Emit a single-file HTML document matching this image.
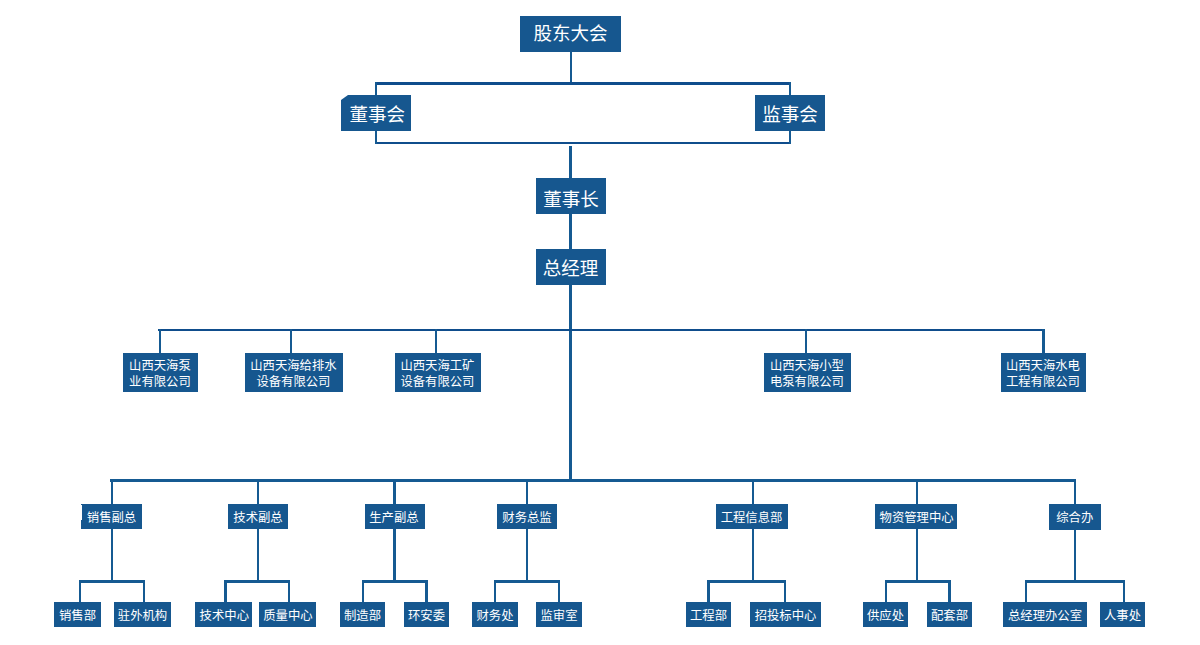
<!DOCTYPE html>
<html lang="zh-CN">
<head>
<meta charset="utf-8">
<title>组织机构</title>
<style>
html,body{margin:0;padding:0;background:#fff;}
body{width:1200px;height:645px;position:relative;overflow:hidden;font-family:"Liberation Sans","Noto Sans CJK SC",sans-serif;}
.l{position:absolute;}
.b{position:absolute;background:#16578f;color:#fff;display:flex;align-items:center;justify-content:center;text-align:center;white-space:nowrap;font-size:12.35px;line-height:16px;}
.b span{position:relative;display:block;}
.b.big{font-size:18.5px;line-height:24px;}
.b.cut{clip-path:polygon(7px 0,100% 0,100% 100%,0 100%,0 5px);}
</style>
</head>
<body>
<div class="l" style="left:570px;top:52px;width:2px;height:31px;background:#155a92"></div>
<div class="l" style="left:375px;top:82px;width:416px;height:2.5px;background:#0f4d8c"></div>
<div class="l" style="left:375px;top:141.5px;width:416px;height:2.5px;background:#0f4d8c"></div>
<div class="l" style="left:375px;top:82px;width:2.2px;height:62px;background:#155a92"></div>
<div class="l" style="left:789px;top:82px;width:2px;height:62px;background:#155a92"></div>
<div class="l" style="left:569px;top:146px;width:3px;height:334px;background:#155a92"></div>
<div class="l" style="left:158px;top:329px;width:887px;height:2px;background:#0f4d8c"></div>
<div class="l" style="left:159px;top:329px;width:2px;height:25px;background:#155a92"></div>
<div class="l" style="left:290px;top:329px;width:2px;height:25px;background:#155a92"></div>
<div class="l" style="left:435px;top:329px;width:2px;height:25px;background:#155a92"></div>
<div class="l" style="left:805px;top:329px;width:2px;height:25px;background:#155a92"></div>
<div class="l" style="left:1042px;top:329px;width:3px;height:25px;background:#155a92"></div>
<div class="l" style="left:110px;top:479px;width:966px;height:3px;background:#155a92"></div>
<div class="l" style="left:111px;top:479px;width:2px;height:102px;background:#155a92"></div>
<div class="l" style="left:257px;top:479px;width:2px;height:102px;background:#155a92"></div>
<div class="l" style="left:393px;top:479px;width:3px;height:102px;background:#155a92"></div>
<div class="l" style="left:526px;top:479px;width:2px;height:102px;background:#155a92"></div>
<div class="l" style="left:752px;top:479px;width:2px;height:102px;background:#155a92"></div>
<div class="l" style="left:916px;top:479px;width:2px;height:102px;background:#155a92"></div>
<div class="l" style="left:1074px;top:479px;width:2px;height:102px;background:#155a92"></div>
<div class="l" style="left:79px;top:580px;width:65.75px;height:2.5px;background:#155a92"></div>
<div class="l" style="left:79px;top:580px;width:2px;height:23px;background:#155a92"></div>
<div class="l" style="left:142.5px;top:580px;width:2.25px;height:23px;background:#155a92"></div>
<div class="l" style="left:224px;top:580px;width:66px;height:2.5px;background:#155a92"></div>
<div class="l" style="left:224px;top:580px;width:2.8px;height:23px;background:#155a92"></div>
<div class="l" style="left:287.75px;top:580px;width:2.25px;height:23px;background:#155a92"></div>
<div class="l" style="left:362px;top:580px;width:65.75px;height:2.5px;background:#155a92"></div>
<div class="l" style="left:362px;top:580px;width:2px;height:23px;background:#155a92"></div>
<div class="l" style="left:425px;top:580px;width:2.75px;height:23px;background:#155a92"></div>
<div class="l" style="left:494px;top:580px;width:66px;height:2.5px;background:#155a92"></div>
<div class="l" style="left:494px;top:580px;width:2px;height:23px;background:#155a92"></div>
<div class="l" style="left:557.75px;top:580px;width:2.25px;height:23px;background:#155a92"></div>
<div class="l" style="left:707px;top:580px;width:79px;height:2.5px;background:#155a92"></div>
<div class="l" style="left:707px;top:580px;width:2.8px;height:23px;background:#155a92"></div>
<div class="l" style="left:783.5px;top:580px;width:2.5px;height:23px;background:#155a92"></div>
<div class="l" style="left:885px;top:580px;width:66px;height:2.5px;background:#155a92"></div>
<div class="l" style="left:885px;top:580px;width:2.1px;height:23px;background:#155a92"></div>
<div class="l" style="left:948.25px;top:580px;width:2.75px;height:23px;background:#155a92"></div>
<div class="l" style="left:1025px;top:580px;width:99.75px;height:2.5px;background:#155a92"></div>
<div class="l" style="left:1025px;top:580px;width:2.1px;height:23px;background:#155a92"></div>
<div class="l" style="left:1122.5px;top:580px;width:2.25px;height:23px;background:#155a92"></div>
<div class="b big" style="left:520px;top:16px;width:101px;height:36px"><span style="top:0.4px">股东大会</span></div>
<div class="b big cut" style="left:341px;top:95px;width:70px;height:36px"><span style="top:2px;left:1.2px">董事会</span></div>
<div class="b big" style="left:755px;top:95px;width:70px;height:36px"><span style="top:2px">监事会</span></div>
<div class="b big" style="left:536px;top:178px;width:70px;height:36px"><span style="top:4px">董事长</span></div>
<div class="b big" style="left:536px;top:249px;width:70px;height:36px"><span style="top:2px;left:-0.5px">总经理</span></div>
<div class="b two" style="left:123px;top:353px;width:75px;height:39px"><span style="top:1px;left:-0.6px">山西天海泵<br>业有限公司</span></div>
<div class="b two" style="left:245px;top:353px;width:98px;height:39px"><span style="top:1px;left:-0.6px">山西天海给排水<br>设备有限公司</span></div>
<div class="b two" style="left:395px;top:353px;width:86px;height:39px"><span style="top:1px;left:-0.6px">山西天海工矿<br>设备有限公司</span></div>
<div class="b two" style="left:764px;top:353px;width:87px;height:39px"><span style="top:1px;left:-0.6px">山西天海小型<br>电泵有限公司</span></div>
<div class="b two" style="left:1001px;top:353px;width:85px;height:39px"><span style="top:1px;left:-0.6px">山西天海水电<br>工程有限公司</span></div>
<div class="b" style="left:81px;top:504px;width:61px;height:24.5px"><span style="top:1.5px">销售副总</span></div>
<div class="b" style="left:228px;top:504px;width:60px;height:24.5px"><span style="top:1.5px">技术副总</span></div>
<div class="b" style="left:364.6px;top:504px;width:60.4px;height:24.5px"><span style="top:1.5px;left:-0.9px">生产副总</span></div>
<div class="b" style="left:497px;top:504px;width:60px;height:24.5px"><span style="top:1.5px">财务总监</span></div>
<div class="b" style="left:715.6px;top:504px;width:72.4px;height:24.5px"><span style="top:1.5px;left:-0.3px">工程信息部</span></div>
<div class="b" style="left:875px;top:504px;width:82px;height:24.5px"><span style="top:1.5px;left:0.6px">物资管理中心</span></div>
<div class="b" style="left:1049px;top:504px;width:51.5px;height:25.75px"><span style="top:1.5px">综合办</span></div>
<div class="b" style="left:54px;top:602px;width:47px;height:25px"><span style="top:1.3px">销售部</span></div>
<div class="b" style="left:114px;top:602px;width:57px;height:25px"><span style="top:1.3px">驻外机构</span></div>
<div class="b" style="left:195px;top:602px;width:57px;height:25px"><span style="top:1.3px;left:0.8px">技术中心</span></div>
<div class="b" style="left:259px;top:602px;width:57px;height:25px"><span style="top:1.3px;left:0.4px">质量中心</span></div>
<div class="b" style="left:340px;top:602px;width:45px;height:25px"><span style="top:1.3px">制造部</span></div>
<div class="b" style="left:404px;top:602px;width:45px;height:25px"><span style="top:1.3px">环安委</span></div>
<div class="b" style="left:472px;top:602px;width:46px;height:25px"><span style="top:1.3px">财务处</span></div>
<div class="b" style="left:536px;top:602px;width:46px;height:25px"><span style="top:1.3px">监审室</span></div>
<div class="b" style="left:686px;top:602px;width:45px;height:25px"><span style="top:1.3px">工程部</span></div>
<div class="b" style="left:750px;top:602px;width:71px;height:25px"><span style="top:1.3px">招投标中心</span></div>
<div class="b" style="left:863px;top:602px;width:45px;height:25px"><span style="top:1.3px">供应处</span></div>
<div class="b" style="left:927px;top:602px;width:45px;height:25px"><span style="top:1.3px">配套部</span></div>
<div class="b" style="left:1003px;top:602px;width:84px;height:25px"><span style="top:1.3px">总经理办公室</span></div>
<div class="b" style="left:1100px;top:602px;width:45px;height:25px"><span style="top:1.3px">人事处</span></div>
<div class="l" style="left:80.5px;top:505.3px;width:1.6px;height:14.7px;background:#fff"></div>
</body>
</html>
